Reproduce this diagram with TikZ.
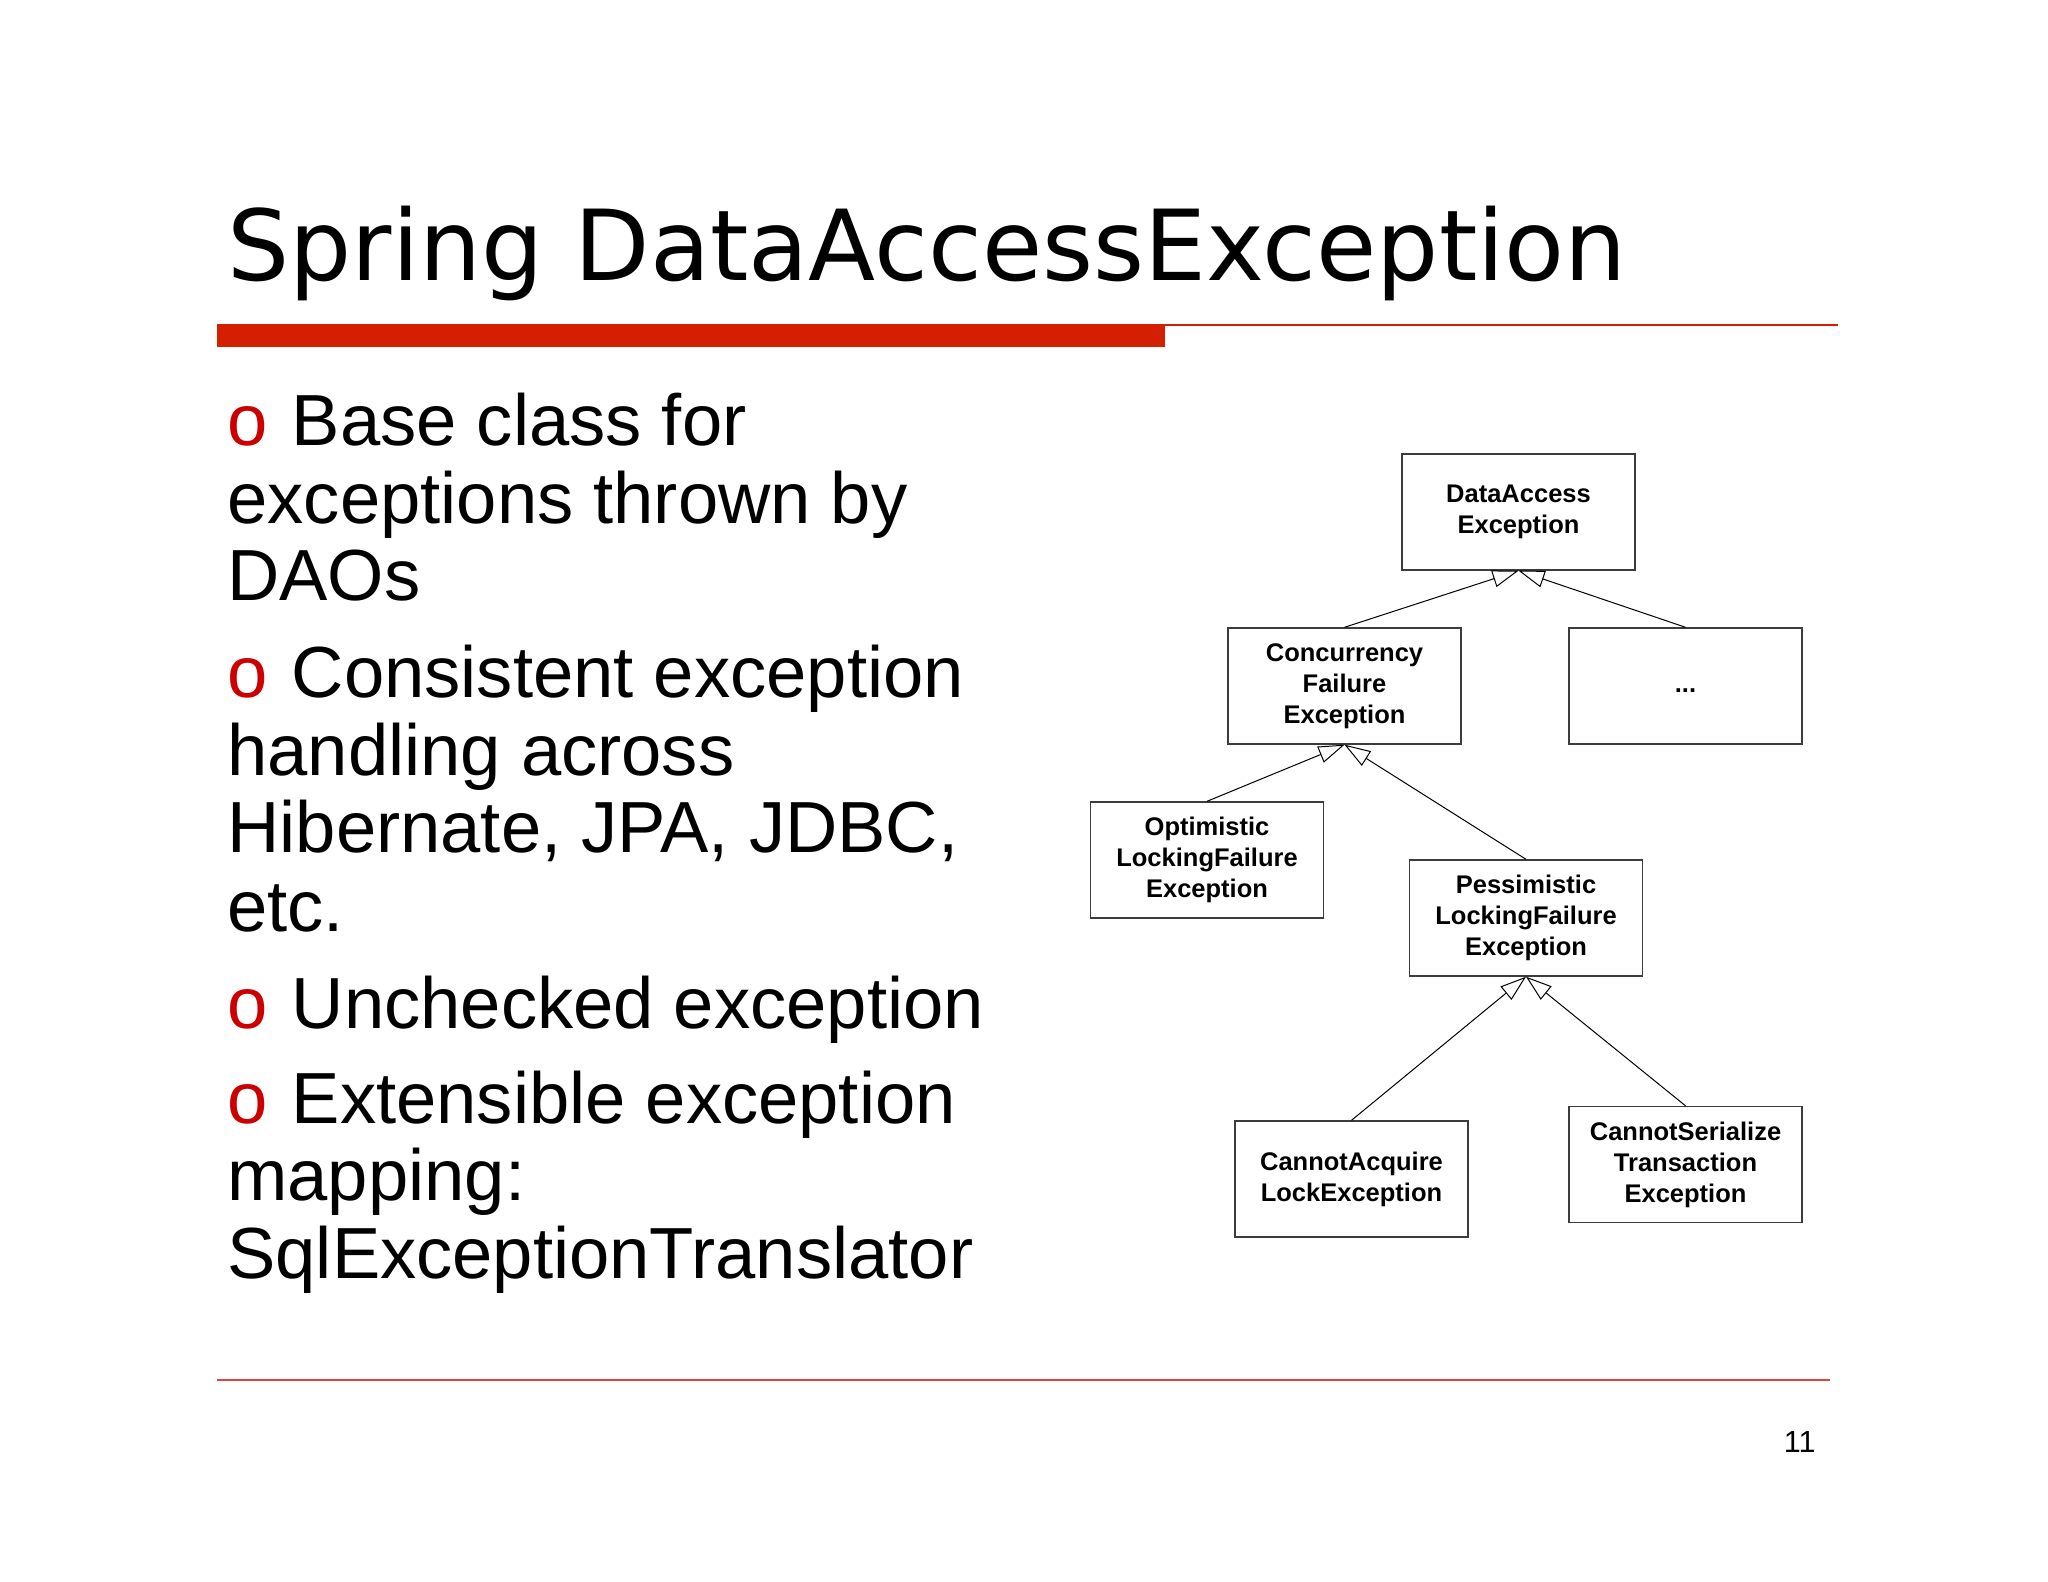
\documentclass[tikz,border=0pt]{standalone}
\usepackage{fontspec}
\setmainfont{Liberation Sans}
\newfontfamily\titlefont{DejaVu Sans}
\usetikzlibrary{arrows.meta}
\definecolor{barred}{RGB}{212,32,0}
\definecolor{bulletred}{RGB}{204,0,0}
\definecolor{rulered}{RGB}{218,70,60}
\definecolor{boxgray}{RGB}{60,60,60}
\newcommand{\bul}{\textcolor{bulletred}{o}\hspace{2pt} }
\begin{document}
\begin{tikzpicture}
	[x=0.5pt,y=-0.5pt,
	 cls/.style={draw=boxgray,line width=0.7pt,minimum width=116.5pt,minimum height=58pt,inner sep=0pt,align=center,font=\bfseries\fontsize{12.75}{15.5}\selectfont},
	 item/.style={anchor=base west,inner sep=0pt,font=\fontsize{36.2}{42}\selectfont},
	 isa/.style={line width=0.5pt,-{Triangle[open,length=13pt,width=8.6pt]}}]
	\useasboundingbox (0,0) rectangle (2048,1582);
	\fill[white] (0,0) rectangle (2048,1582);
	% title and rules
	\node[anchor=base west,inner sep=0pt,font=\titlefont\fontsize{49}{58}\selectfont,name=title] at (227,281) {Spring DataAccessException};
	\fill[barred] (217,324) rectangle (1165,347);
	\draw[barred,line width=1pt] (1165,325) -- (1838,325);
	\draw[rulered,line width=0.6pt] (217,1380) -- (1830,1380);
	\node[anchor=base east,inner sep=0pt,font=\fontsize{15.25}{18}\selectfont,name=pageno] at (1816,1452) {11};
	% bullets
	\node[item,name=b1] at (227,446) {\bul Base class for};
	\node[item,name=b2] at (227,524) {exceptions thrown by};
	\node[item,name=b3] at (227,601) {DAOs};
	\node[item,name=b4] at (227,697) {\bul Consistent exception};
	\node[item,name=b5] at (227,775) {handling across};
	\node[item,name=b6] at (227,852) {Hibernate, JPA, JDBC,};
	\node[item,name=b7] at (227,931) {etc.};
	\node[item,name=b8] at (227,1028) {\bul Unchecked exception};
	\node[item,name=b9] at (227,1123) {\bul Extensible exception};
	\node[item,name=b10] at (227,1200) {mapping:};
	\node[item,name=b11] at (227,1278) {SqlExceptionTranslator};
	% class hierarchy
	\node[cls,name=dae] at (1518.5,512) {DataAccess\\Exception};
	\node[cls,name=conc] at (1344.5,686) {Concurrency\\Failure\\Exception};
	\node[cls,name=dots] at (1685.5,686) {\raisebox{-6pt}{...}};
	\node[cls,name=opt] at (1207,860) {Optimistic\\LockingFailure\\Exception};
	\node[cls,name=pess] at (1526,918) {Pessimistic\\LockingFailure\\Exception};
	\node[cls,name=acq] at (1351.5,1179) {CannotAcquire\\LockException};
	\node[cls,name=ser] at (1685.5,1164.5) {CannotSerialize\\Transaction\\Exception};
	\draw[isa] (conc.north)--(dae.south);
	\draw[isa] (dots.north)--(dae.south);
	\draw[isa] (opt.north)--(conc.south);
	\draw[isa] (pess.north)--(conc.south);
	\draw[isa] (acq.north)--(pess.south);
	\draw[isa] (ser.north)--(pess.south);
\end{tikzpicture}
\end{document}
